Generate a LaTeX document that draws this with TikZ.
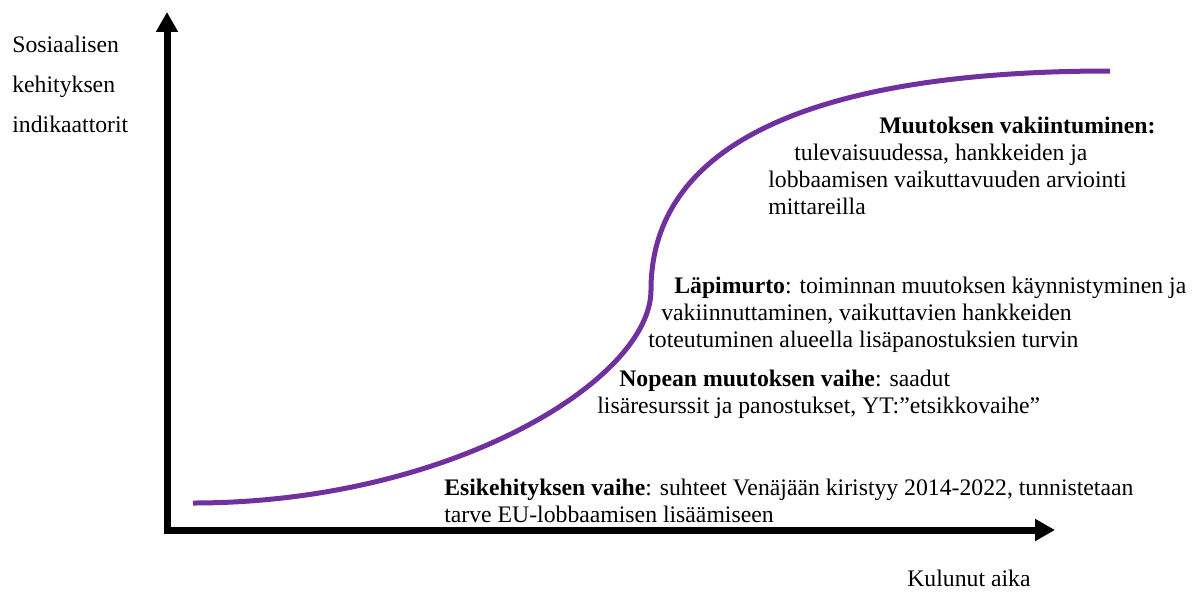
\documentclass[tikz,border=0pt]{standalone}
\usepackage{fontspec}
\setmainfont{Liberation Serif}
\usetikzlibrary{arrows.meta}

\begin{document}
\begin{tikzpicture}[x=0.02cm,y=-0.02cm,
		axis/.style={line width=0.14cm,line join=miter,{Triangle[length=0.4cm,width=0.42cm]}-{Triangle[length=0.4cm,width=0.42cm]}},
		phase/.style={anchor=north west,inner sep=0,align=left,font=\fontsize{13.5}{15.3}\selectfont}]
		\definecolor{scurve}{RGB}{112,48,160}
		\useasboundingbox (0,0) rectangle (1193,592);
		\def\ox{167}
		\def\oy{530}
		\coordinate (O) at (\ox,\oy);
		\coordinate (Ytop) at (\ox,12);
		\coordinate (Xend) at (1055,\oy);
		\draw[axis] (Ytop) -- (O) -- (Xend);
		% S-kayra
		\draw[scurve,line width=0.1cm] (193,503) .. controls (450,503) and (651,380) .. (651,290)
			.. controls (651,150) and (800,71) .. (1110,71);
		\node[phase,font=\fontsize{13.5}{22.8}\selectfont] (ylab) at (12,36) {Sosiaalisen\\kehityksen\\indikaattorit};
		\node[anchor=west,inner sep=0,font=\fontsize{13.5}{15.3}\selectfont] (xlab) at (907,578) {Kulunut aika};
		\node[phase] (muut) at (768,117) {\hspace*{2.22cm}\textbf{Muutoksen vakiintuminen:}\\
			\hspace*{0.52cm}tulevaisuudessa, hankkeiden ja\\
			lobbaamisen vaikuttavuuden arviointi\\
			mittareilla};
		\node[phase] (lapi) at (648,277) {\hspace*{0.52cm}\textbf{Läpimurto}: toiminnan muutoksen käynnistyminen ja\\
			\hspace*{0.26cm}vakiinnuttaminen, vaikuttavien hankkeiden\\
			toteutuminen alueella lisäpanostuksien turvin};
		\node[phase] (nope) at (597,370) {\hspace*{0.44cm}\textbf{Nopean muutoksen vaihe}: saadut\\
			lisäresurssit ja panostukset, YT:”etsikkovaihe”};
		\node[phase] (esik) at (444,479) {\textbf{Esikehityksen vaihe}: suhteet Venäjään kiristyy 2014-2022, tunnistetaan\\
			tarve EU-lobbaamisen lisäämiseen};
	\end{tikzpicture}
\end{document}
